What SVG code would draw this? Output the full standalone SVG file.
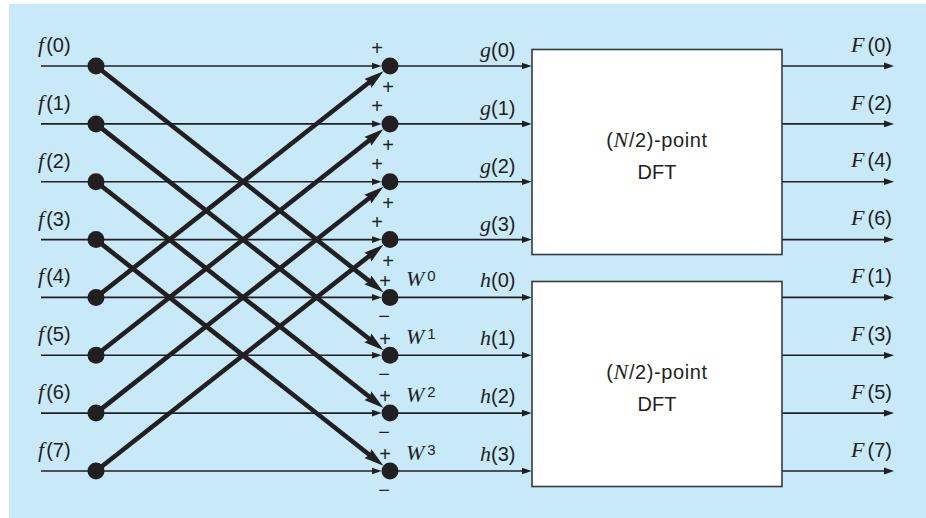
<svg xmlns="http://www.w3.org/2000/svg" width="926" height="518" viewBox="0 0 926 518">
<style>
.bg{fill:#c7e9f8}
.thin{stroke:#231f20;stroke-width:1.6;fill:none}
.thick{stroke:#231f20;stroke-width:4.6;fill:none}
.dot{fill:#231f20}
.box{fill:#ffffff;stroke:#3a3a3a;stroke-width:1.6}
.s{font-family:"Liberation Sans",Arial,sans-serif;font-size:20px;fill:#231f20}
.i{font-family:"Liberation Serif","Times New Roman",serif;font-style:italic;font-size:22px}
.sg{font-family:"Liberation Sans",Arial,sans-serif;font-size:20px;fill:#231f20;text-anchor:middle}
.bt{font-family:"Liberation Sans",Arial,sans-serif;font-size:20px;fill:#231f20;text-anchor:middle}
.sup{font-size:15px}
.r{text-anchor:end}
</style>
<defs>
<marker id="at" markerUnits="userSpaceOnUse" viewBox="0 -4 10 8" refX="4" refY="0" markerWidth="10" markerHeight="8" orient="auto">
<path d="M0,-3.4 L10,0 L0,3.4 z" fill="#231f20"/>
</marker>
<marker id="ak" markerUnits="userSpaceOnUse" viewBox="0 -6 20 12" refX="6" refY="0" markerWidth="20" markerHeight="12" orient="auto">
<path d="M0,-5.6 L20,0 L0,5.6 L2.5,0 z" fill="#231f20"/>
</marker>
</defs>
<rect class="bg" x="9" y="4" width="917" height="514"/>

<g id="connectors">
<line class="thin" x1="41" y1="66" x2="375.7" y2="66" marker-end="url(#at)"/>
<line class="thin" x1="41" y1="123.9" x2="375.7" y2="123.9" marker-end="url(#at)"/>
<line class="thin" x1="41" y1="181.7" x2="375.7" y2="181.7" marker-end="url(#at)"/>
<line class="thin" x1="41" y1="239.6" x2="375.7" y2="239.6" marker-end="url(#at)"/>
<line class="thin" x1="41" y1="297.4" x2="375.7" y2="297.4" marker-end="url(#at)"/>
<line class="thin" x1="41" y1="355.3" x2="375.7" y2="355.3" marker-end="url(#at)"/>
<line class="thin" x1="41" y1="413.1" x2="375.7" y2="413.1" marker-end="url(#at)"/>
<line class="thin" x1="41" y1="471" x2="375.7" y2="471" marker-end="url(#at)"/>
<line class="thin" x1="390" y1="66" x2="525.7" y2="66" marker-end="url(#at)"/>
<line class="thin" x1="390" y1="123.9" x2="525.7" y2="123.9" marker-end="url(#at)"/>
<line class="thin" x1="390" y1="181.7" x2="525.7" y2="181.7" marker-end="url(#at)"/>
<line class="thin" x1="390" y1="239.6" x2="525.7" y2="239.6" marker-end="url(#at)"/>
<line class="thin" x1="390" y1="297.4" x2="525.7" y2="297.4" marker-end="url(#at)"/>
<line class="thin" x1="390" y1="355.3" x2="525.7" y2="355.3" marker-end="url(#at)"/>
<line class="thin" x1="390" y1="413.1" x2="525.7" y2="413.1" marker-end="url(#at)"/>
<line class="thin" x1="390" y1="471" x2="525.7" y2="471" marker-end="url(#at)"/>
<line class="thin" x1="782" y1="66" x2="888" y2="66" marker-end="url(#at)"/>
<line class="thin" x1="782" y1="123.9" x2="888" y2="123.9" marker-end="url(#at)"/>
<line class="thin" x1="782" y1="181.7" x2="888" y2="181.7" marker-end="url(#at)"/>
<line class="thin" x1="782" y1="239.6" x2="888" y2="239.6" marker-end="url(#at)"/>
<line class="thin" x1="782" y1="297.4" x2="888" y2="297.4" marker-end="url(#at)"/>
<line class="thin" x1="782" y1="355.3" x2="888" y2="355.3" marker-end="url(#at)"/>
<line class="thin" x1="782" y1="413.1" x2="888" y2="413.1" marker-end="url(#at)"/>
<line class="thin" x1="782" y1="471" x2="888" y2="471" marker-end="url(#at)"/>
<line class="thick" x1="96" y1="66" x2="372.5" y2="283.6" marker-end="url(#ak)"/>
<line class="thick" x1="96" y1="123.9" x2="372.5" y2="341.5" marker-end="url(#ak)"/>
<line class="thick" x1="96" y1="181.7" x2="372.5" y2="399.3" marker-end="url(#ak)"/>
<line class="thick" x1="96" y1="239.6" x2="372.5" y2="457.2" marker-end="url(#ak)"/>
<line class="thick" x1="96" y1="297.4" x2="372.5" y2="79.8" marker-end="url(#ak)"/>
<line class="thick" x1="96" y1="355.3" x2="372.5" y2="137.7" marker-end="url(#ak)"/>
<line class="thick" x1="96" y1="413.1" x2="372.5" y2="195.5" marker-end="url(#ak)"/>
<line class="thick" x1="96" y1="471" x2="372.5" y2="253.4" marker-end="url(#ak)"/>
</g>

<g id="inputs">
<g id="in0"><circle class="dot" cx="96" cy="66" r="8.5"/><text class="s" x="38" y="52"><tspan class="i">f</tspan><tspan dx="2">(0)</tspan></text></g>
<g id="in1"><circle class="dot" cx="96" cy="123.9" r="8.5"/><text class="s" x="38" y="109.9"><tspan class="i">f</tspan><tspan dx="2">(1)</tspan></text></g>
<g id="in2"><circle class="dot" cx="96" cy="181.7" r="8.5"/><text class="s" x="38" y="167.7"><tspan class="i">f</tspan><tspan dx="2">(2)</tspan></text></g>
<g id="in3"><circle class="dot" cx="96" cy="239.6" r="8.5"/><text class="s" x="38" y="225.6"><tspan class="i">f</tspan><tspan dx="2">(3)</tspan></text></g>
<g id="in4"><circle class="dot" cx="96" cy="297.4" r="8.5"/><text class="s" x="38" y="283.4"><tspan class="i">f</tspan><tspan dx="2">(4)</tspan></text></g>
<g id="in5"><circle class="dot" cx="96" cy="355.3" r="8.5"/><text class="s" x="38" y="341.3"><tspan class="i">f</tspan><tspan dx="2">(5)</tspan></text></g>
<g id="in6"><circle class="dot" cx="96" cy="413.1" r="8.5"/><text class="s" x="38" y="399.1"><tspan class="i">f</tspan><tspan dx="2">(6)</tspan></text></g>
<g id="in7"><circle class="dot" cx="96" cy="471" r="8.5"/><text class="s" x="38" y="457"><tspan class="i">f</tspan><tspan dx="2">(7)</tspan></text></g>
</g>

<g id="sums">
<g id="sum0"><circle class="dot" cx="390" cy="66" r="8.5"/><text class="sg" x="377" y="55.3">+</text><text class="sg" x="388" y="94.3">+</text><text class="s" x="480" y="57"><tspan class="i">g</tspan>(0)</text></g>
<g id="sum1"><circle class="dot" cx="390" cy="123.9" r="8.5"/><text class="sg" x="377" y="113.2">+</text><text class="sg" x="388" y="152.2">+</text><text class="s" x="480" y="114.9"><tspan class="i">g</tspan>(1)</text></g>
<g id="sum2"><circle class="dot" cx="390" cy="181.7" r="8.5"/><text class="sg" x="377" y="171">+</text><text class="sg" x="388" y="210">+</text><text class="s" x="480" y="172.7"><tspan class="i">g</tspan>(2)</text></g>
<g id="sum3"><circle class="dot" cx="390" cy="239.6" r="8.5"/><text class="sg" x="377" y="228.9">+</text><text class="sg" x="388" y="267.9">+</text><text class="s" x="480" y="230.6"><tspan class="i">g</tspan>(3)</text></g>
<g id="dif0"><circle class="dot" cx="390" cy="297.4" r="8.5"/><text class="sg" x="385" y="287.7">+</text><text class="sg" x="384" y="323.2">−</text><text class="s" x="406" y="286"><tspan class="i">W</tspan><tspan class="sup" dx="3" dy="-5">0</tspan></text><text class="s" x="480" y="286.9"><tspan class="i">h</tspan>(0)</text></g>
<g id="dif1"><circle class="dot" cx="390" cy="355.3" r="8.5"/><text class="sg" x="385" y="345.6">+</text><text class="sg" x="384" y="381.1">−</text><text class="s" x="406" y="343.9"><tspan class="i">W</tspan><tspan class="sup" dx="3" dy="-5">1</tspan></text><text class="s" x="480" y="344.8"><tspan class="i">h</tspan>(1)</text></g>
<g id="dif2"><circle class="dot" cx="390" cy="413.1" r="8.5"/><text class="sg" x="385" y="403.4">+</text><text class="sg" x="384" y="438.9">−</text><text class="s" x="406" y="401.7"><tspan class="i">W</tspan><tspan class="sup" dx="3" dy="-5">2</tspan></text><text class="s" x="480" y="402.6"><tspan class="i">h</tspan>(2)</text></g>
<g id="dif3"><circle class="dot" cx="390" cy="471" r="8.5"/><text class="sg" x="385" y="461.3">+</text><text class="sg" x="384" y="496.8">−</text><text class="s" x="406" y="459.6"><tspan class="i">W</tspan><tspan class="sup" dx="3" dy="-5">3</tspan></text><text class="s" x="480" y="460.5"><tspan class="i">h</tspan>(3)</text></g>
</g>

<g id="dft1">
<rect class="box" x="532" y="49.5" width="250" height="205"/>
<text class="bt" x="657" y="146.8" letter-spacing="0.6">(<tspan class="i">N</tspan>/2)-point</text>
<text class="bt" x="657" y="179">DFT</text>
</g>
<g id="dft2">
<rect class="box" x="532" y="281.5" width="250" height="205"/>
<text class="bt" x="657" y="379.2" letter-spacing="0.6">(<tspan class="i">N</tspan>/2)-point</text>
<text class="bt" x="657" y="411">DFT</text>
</g>

<g id="outputs">
<text class="s r" x="892" y="51.7"><tspan class="i">F</tspan><tspan dx="3">(0)</tspan></text>
<text class="s r" x="892" y="109.6"><tspan class="i">F</tspan><tspan dx="3">(2)</tspan></text>
<text class="s r" x="892" y="167.4"><tspan class="i">F</tspan><tspan dx="3">(4)</tspan></text>
<text class="s r" x="892" y="225.3"><tspan class="i">F</tspan><tspan dx="3">(6)</tspan></text>
<text class="s r" x="892" y="283.1"><tspan class="i">F</tspan><tspan dx="3">(1)</tspan></text>
<text class="s r" x="892" y="341"><tspan class="i">F</tspan><tspan dx="3">(3)</tspan></text>
<text class="s r" x="892" y="398.8"><tspan class="i">F</tspan><tspan dx="3">(5)</tspan></text>
<text class="s r" x="892" y="456.7"><tspan class="i">F</tspan><tspan dx="3">(7)</tspan></text>
</g>
</svg>
